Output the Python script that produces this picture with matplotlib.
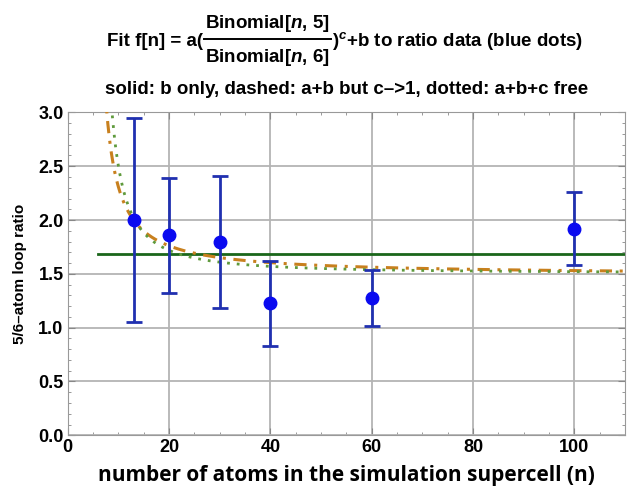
import numpy as np
import matplotlib
matplotlib.use("Agg")
import matplotlib.pyplot as plt
from matplotlib.ticker import MultipleLocator
from matplotlib.lines import Line2D

# data rasio (titik biru) dan error bar
n_atom = [13, 20, 30, 40, 60, 100]
rasio = [2.00, 1.86, 1.80, 1.23, 1.28, 1.92]
err_atas = [2.95, 2.39, 2.41, 1.62, 1.54, 2.26]
err_bawah = [1.05, 1.32, 1.18, 0.83, 1.02, 1.58]

# parameter hasil fit
b_saja = 1.68                          # solid: b only
a_dash, b_dash = 0.684, 1.487          # dashed: a+b, c->1
a_dot, b_dot, c_dot = 0.773, 1.504, 1.4  # dotted: a+b+c free

plt.rcParams['font.family'] = ['Liberation Sans', 'DejaVu Sans']
plt.rcParams['mathtext.fontset'] = 'custom'
plt.rcParams['mathtext.rm'] = 'Liberation Sans:bold'
plt.rcParams['mathtext.it'] = 'Liberation Sans:italic:bold'
plt.rcParams['mathtext.bf'] = 'Liberation Sans:bold'

W, H = 627, 493
fig = plt.figure(figsize=(W / 100, H / 100), dpi=100)
ax = fig.add_axes([0.108, 0.117, 0.889, 0.655])

n = np.linspace(6, 110, 600)
rbin = 6.0 / (n - 5)   # Binomial[n,5]/Binomial[n,6]

ax.plot([6, 110], [b_saja, b_saja], color='#1a661a', lw=2, zorder=3)
ax.plot(n, b_dash + a_dash * rbin, color='#c8801e', lw=2.2, ls=(0, (4, 2.5, 1, 2.5)), zorder=3)
ax.plot(n, b_dot + a_dot * rbin ** c_dot, color='#5f9a3c', lw=2, ls=(0, (1, 2.5)), zorder=3)

y = np.array(rasio)
yerr = [y - np.array(err_bawah), np.array(err_atas) - y]
ax.errorbar(n_atom, rasio, yerr=yerr, fmt='o', color='#0a0af0', ms=9,
            ecolor='#2030b0', elinewidth=2, capsize=6, capthick=2, zorder=4)

ax.set_xlim(0, 110)
ax.set_ylim(0, 3.0)
ax.xaxis.set_major_locator(MultipleLocator(20))
ax.xaxis.set_minor_locator(MultipleLocator(5))
ax.yaxis.set_minor_locator(MultipleLocator(0.1))
ax.set_yticks(np.arange(0, 3.01, 0.5))
ax.set_yticklabels(['%.1f' % v for v in np.arange(0, 3.01, 0.5)])
ax.grid(True, which='major', color='#b4b4b4', lw=1.3)
ax.tick_params(which='both', direction='in', top=True, right=True, color='#888888')
ax.tick_params(which='major', length=5, labelsize=13, pad=3)
ax.tick_params(which='minor', length=2.5)
for lbl in ax.get_xticklabels() + ax.get_yticklabels():
    lbl.set_fontweight('bold')
for s in ax.spines.values():
    s.set_color('#999999')

ax.set_xlabel('number of atoms in the simulation supercell (n)', fontsize=15,
              fontweight='bold', family=['Open Sans', 'DejaVu Sans'], labelpad=6)
ax.set_ylabel('5/6\u2013atom loop ratio', fontsize=11, fontweight='bold', labelpad=8)

# judul baris 1: susun pecahan secara manual
fs = 13.5
yc = 1 - 41 / H
kiri = fig.text(0, yc, 'Fit f[n] = a(', ha='left', va='center', fontsize=fs, fontweight='bold')
atas = fig.text(0, 1 - 24 / H, r'Binomial[$\mathit{n}$, 5]', ha='center', va='center', fontsize=fs, fontweight='bold')
bawah = fig.text(0, 1 - 57 / H, r'Binomial[$\mathit{n}$, 6]', ha='center', va='center', fontsize=fs, fontweight='bold')
kanan = fig.text(0, yc, r')$^{c}$+b to ratio data (blue dots)', ha='left', va='center', fontsize=fs, fontweight='bold')

r = fig.canvas.get_renderer()
wk = kiri.get_window_extent(r).width
wf = max(atas.get_window_extent(r).width, bawah.get_window_extent(r).width) + 4
wr = kanan.get_window_extent(r).width
x0 = 345 - (wk + wf + wr) / 2
kiri.set_x(x0 / W)
atas.set_x((x0 + wk + wf / 2) / W)
bawah.set_x((x0 + wk + wf / 2) / W)
kanan.set_x((x0 + wk + wf) / W)
fig.add_artist(Line2D([(x0 + wk + 1) / W, (x0 + wk + wf - 1) / W], [1 - 39 / H, 1 - 39 / H],
                      color='black', lw=1.4))

fig.text(347 / W, 1 - 89 / H, 'solid: b only, dashed: a+b but c\u2013>1, dotted: a+b+c free',
         ha='center', va='center', fontsize=fs, fontweight='bold')

fig.savefig('out.png', dpi=100)
